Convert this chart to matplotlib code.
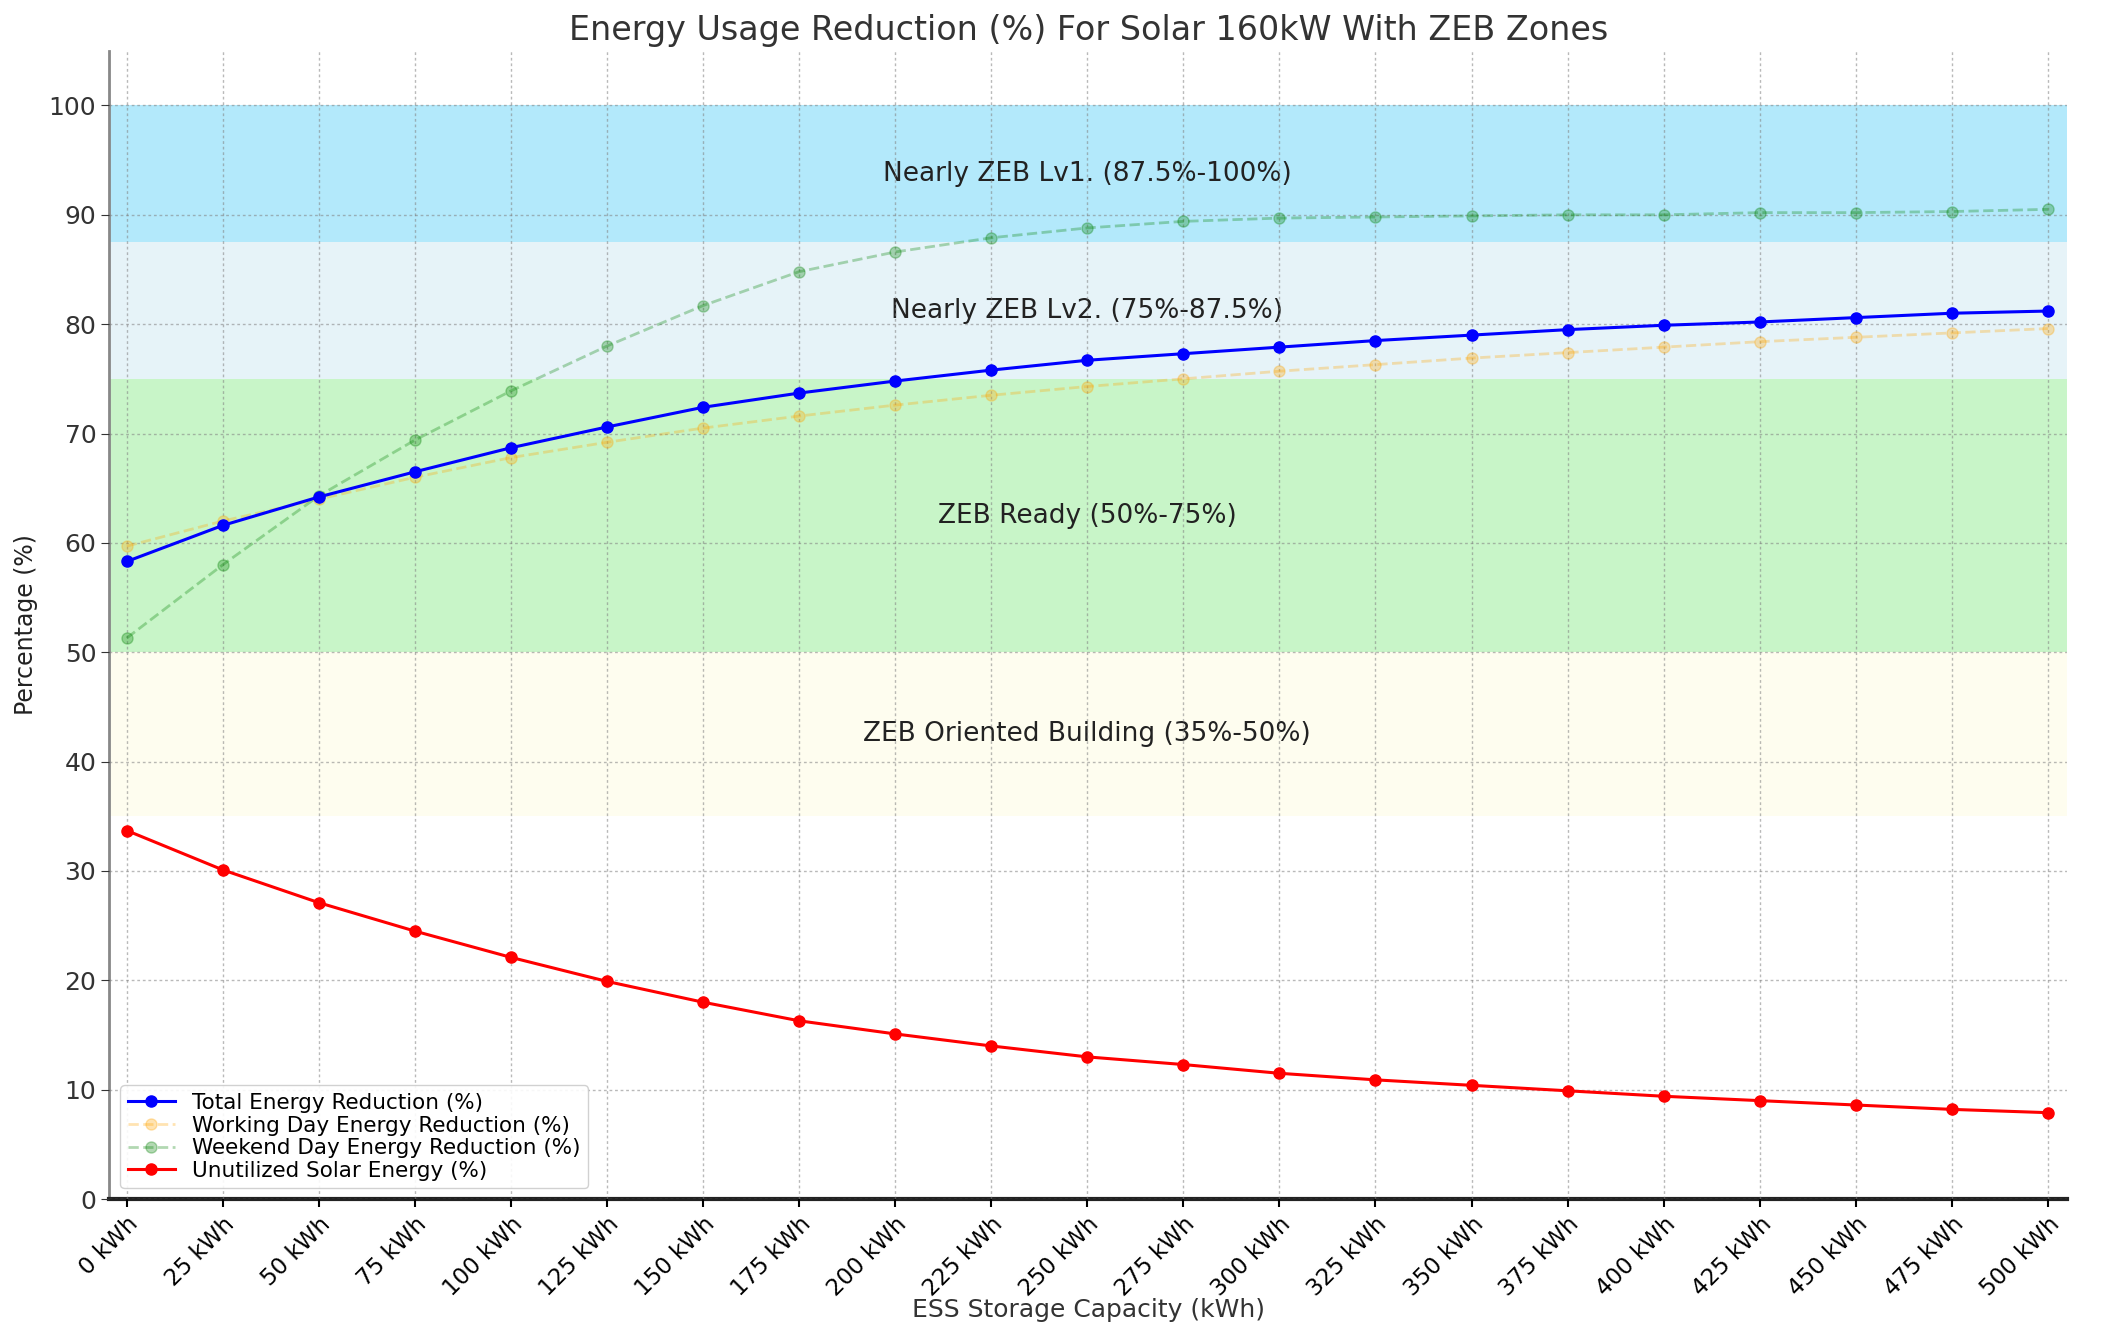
import numpy as np
import matplotlib
matplotlib.use('Agg')
import matplotlib.pyplot as plt

plt.rcParams['font.family'] = ['DejaVu Sans']

capacity = [0, 25, 50, 75, 100, 125, 150, 175, 200, 225, 250, 275, 300,
            325, 350, 375, 400, 425, 450, 475, 500]
total_red = [58.3, 61.6, 64.2, 66.5, 68.7, 70.6, 72.4, 73.7, 74.8, 75.8, 76.7,
             77.3, 77.9, 78.5, 79.0, 79.5, 79.9, 80.2, 80.6, 81.0, 81.2]
working_red = [59.7, 62.0, 64.0, 66.0, 67.8, 69.2, 70.5, 71.6, 72.6, 73.5, 74.3,
               75.0, 75.7, 76.3, 76.9, 77.4, 77.9, 78.4, 78.8, 79.2, 79.6]
weekend_red = [51.3, 58.0, 64.3, 69.4, 73.9, 78.0, 81.7, 84.8, 86.6, 87.9, 88.8,
               89.4, 89.7, 89.8, 89.9, 90.0, 90.0, 90.2, 90.2, 90.3, 90.5]
unutilized = [33.7, 30.1, 27.1, 24.5, 22.1, 19.9, 18.0, 16.3, 15.1, 14.0, 13.0,
              12.3, 11.5, 10.9, 10.4, 9.9, 9.4, 9.0, 8.6, 8.2, 7.9]
tick_labels = [f'{c} kWh' for c in capacity]

zones = [(87.5, 100, '#b3e9fb', 'Nearly ZEB Lv1. (87.5%-100%)'),
         (75, 87.5, '#e6f3f8', 'Nearly ZEB Lv2. (75%-87.5%)'),
         (50, 75, '#c8f5c8', 'ZEB Ready (50%-75%)'),
         (35, 50, '#fefdef', 'ZEB Oriented Building (35%-50%)')]

fig = plt.figure(figsize=(21.05, 13.36), dpi=100)
ax = fig.add_axes([0.052, 0.1025, 0.930, 0.8595])

for lo, hi, col, label in zones:
    ax.axhspan(lo, hi, color=col, zorder=0, lw=0)
    ax.text(250, (lo + hi) / 2, label, ha='center', va='center', fontsize=19, color='#222222', zorder=1)

ax.plot(capacity, total_red, color='blue', marker='o', ms=8, lw=2.2, label='Total Energy Reduction (%)', zorder=4)
ax.plot(capacity, working_red, color='orange', marker='o', ms=8, lw=2, ls='--', alpha=0.3,
        label='Working Day Energy Reduction (%)', zorder=3)
ax.plot(capacity, weekend_red, color='green', marker='o', ms=8, lw=2, ls='--', alpha=0.3,
        label='Weekend Day Energy Reduction (%)', zorder=3)
ax.plot(capacity, unutilized, color='red', marker='o', ms=8, lw=2.2, label='Unutilized Solar Energy (%)', zorder=4)

ax.set_xlim(-4.5, 505)
ax.set_ylim(0, 105)
ax.set_yticks(np.arange(0, 101, 10))
ax.set_xticks(capacity)
ax.set_xticklabels(tick_labels, rotation=45, ha='right', rotation_mode='anchor', fontsize=16.5)
ax.tick_params(axis='y', labelsize=18, colors='#333333', length=6)
ax.tick_params(axis='x', length=6, width=1.5)

ax.grid(True, color='gray', ls=(0, (2, 2)), lw=1, alpha=0.55, zorder=1)
ax.set_axisbelow(False)
for s in ['top', 'right']:
    ax.spines[s].set_visible(False)
ax.spines['left'].set_color('#888888')
ax.spines['left'].set_linewidth(2)
ax.spines['bottom'].set_color('#222222')
ax.spines['bottom'].set_linewidth(3)

ax.set_title('Energy Usage Reduction (%) For Solar 160kW With ZEB Zones', fontsize=24, color='#333333', pad=8)
ax.set_xlabel('ESS Storage Capacity (kWh)', fontsize=18, color='#333333', labelpad=-2)
ax.set_ylabel('Percentage (%)', fontsize=17, color='#222222', labelpad=8)

ax.legend(loc='lower left', fontsize=15.5, framealpha=0.9, borderpad=0.35, labelspacing=0.12,
          handlelength=2.2)

fig.savefig('out.png', dpi=100)
